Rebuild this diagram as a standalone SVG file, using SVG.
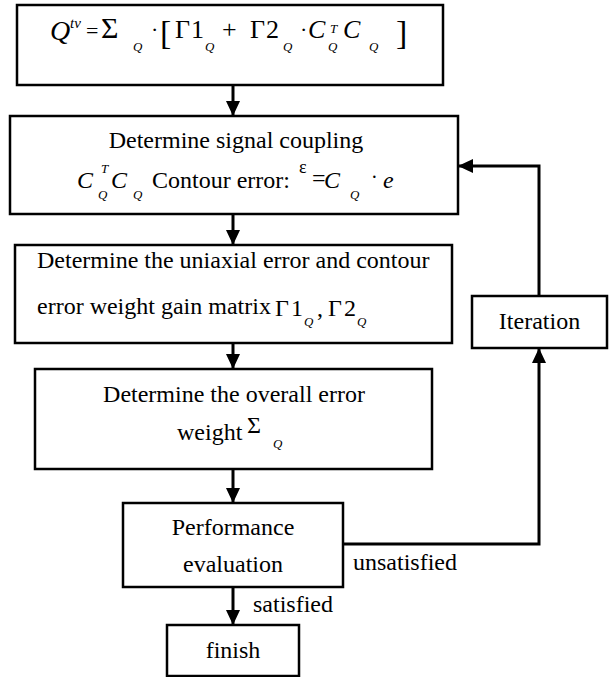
<svg xmlns="http://www.w3.org/2000/svg" width="611" height="677" viewBox="0 0 611 677">
<style>
.box{fill:#fff;stroke:#000;stroke-width:2.5}
text{font-family:"Liberation Serif","Times New Roman",serif;fill:#000}
.t{font-size:24px}
.i{font-style:italic}
.c{text-anchor:middle}
.m{font-size:26px}
.sub{font-style:italic;font-size:13px}
.ln{fill:none;stroke:#000;stroke-width:3}
</style>
<defs>
<marker id="ah" markerUnits="userSpaceOnUse" markerWidth="16" markerHeight="14" refX="15" refY="7" orient="auto">
<path d="M0,0 L15,7 L0,14 Z" fill="#000"/>
</marker>
</defs>
<rect width="611" height="677" fill="#fff"/>
<g id="connectors">
<line class="ln" x1="233" y1="85" x2="233" y2="116" marker-end="url(#ah)"/>
<line class="ln" x1="233" y1="214" x2="233" y2="245" marker-end="url(#ah)"/>
<line class="ln" x1="233" y1="343" x2="233" y2="369" marker-end="url(#ah)"/>
<line class="ln" x1="233" y1="469" x2="233" y2="503" marker-end="url(#ah)"/>
<line class="ln" x1="233" y1="587" x2="233" y2="625" marker-end="url(#ah)"/>
<path class="ln" d="M343,544 H539 V348" marker-end="url(#ah)"/>
<path class="ln" d="M539,296 V166 H458" marker-end="url(#ah)"/>
<text class="t" x="353" y="570">unsatisfied</text>
<text class="t" x="253" y="612">satisfied</text>
</g>
<g id="n1">
<rect class="box" x="17" y="5" width="426" height="80"/>
<text class="i" x="50" y="40" style="font-size:28px">Q</text>
<text class="sub" x="70" y="28" style="font-size:15px">tv</text>
<text x="86" y="38" style="font-size:22px">=</text>
<text x="101" y="38" style="font-size:30px">Σ</text>
<text class="sub" x="133" y="51">Q</text>
<text x="151" y="37" style="font-size:22px">·</text>
<text x="160" y="44" style="font-size:34px">[</text>
<text class="m" x="175" y="38">Γ</text>
<text class="m" x="191" y="38">1</text>
<text class="sub" x="205" y="51">Q</text>
<text class="m" x="222" y="38">+</text>
<text class="m" x="250" y="38">Γ</text>
<text class="m" x="266" y="38">2</text>
<text class="sub" x="283" y="51">Q</text>
<text x="300" y="37" style="font-size:22px">·</text>
<text class="m i" x="308" y="38">C</text>
<text class="sub" x="330" y="33">T</text>
<text class="sub" x="328" y="51">Q</text>
<text class="m i" x="343" y="38">C</text>
<text class="sub" x="369" y="51">Q</text>
<text x="396" y="44" style="font-size:34px">]</text>
</g>
<g id="n2">
<rect class="box" x="10" y="116" width="448" height="98"/>
<text class="t c" x="236" y="148">Determine signal coupling</text>
<text class="t i" x="77" y="188">C</text>
<text class="sub" x="101" y="173">T</text>
<text class="sub" x="98" y="199">Q</text>
<text class="t i" x="111" y="188">C</text>
<text class="sub" x="133" y="199">Q</text>
<text class="t" x="152" y="188">Contour error:</text>
<text x="299" y="173" style="font-size:18px">ε</text>
<text class="t" x="312" y="186">=</text>
<text class="t i" x="324" y="188">C</text>
<text class="sub" x="350" y="199">Q</text>
<text x="371" y="184" style="font-size:20px">·</text>
<text class="t i" x="383" y="188">e</text>
</g>
<g id="n3">
<rect class="box" x="15" y="245" width="437" height="98"/>
<text class="t" x="37" y="268">Determine the uniaxial error and contour</text>
<text class="t" x="37" y="314">error weight gain matrix</text>
<text class="t" x="275" y="316">Γ</text>
<text class="t" x="291" y="316">1</text>
<text class="sub" x="304" y="326">Q</text>
<text class="t" x="317" y="316">,</text>
<text class="t" x="328" y="316">Γ</text>
<text class="t" x="344" y="316">2</text>
<text class="sub" x="357" y="326">Q</text>
</g>
<g id="n4">
<rect class="box" x="35" y="369" width="397" height="100"/>
<text class="t c" x="234" y="402">Determine the overall error</text>
<text class="t" x="177" y="440">weight</text>
<text class="t" x="247" y="433">Σ</text>
<text class="sub" x="273" y="448">Q</text>
</g>
<g id="n5">
<rect class="box" x="123" y="503" width="220" height="84"/>
<text class="t c" x="233" y="535">Performance</text>
<text class="t c" x="233" y="572">evaluation</text>
</g>
<g id="n6">
<rect class="box" x="472" y="296" width="135" height="52"/>
<text class="t c" x="539.5" y="329">Iteration</text>
</g>
<g id="n7">
<rect class="box" x="167" y="625" width="132" height="51"/>
<text class="t c" x="233" y="658">finish</text>
</g>
</svg>
